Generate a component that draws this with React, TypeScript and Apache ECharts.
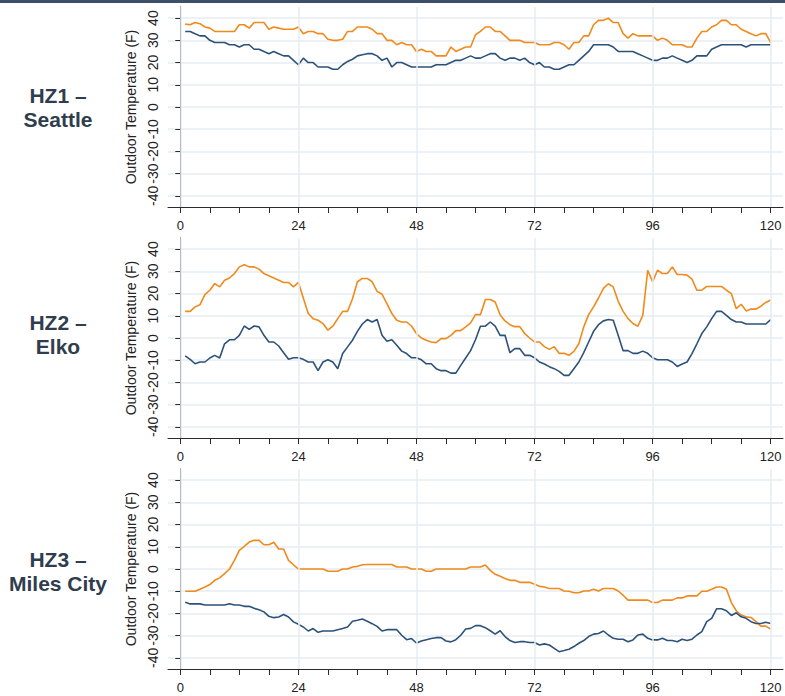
import React, { useEffect, useRef } from "react";
import * as echarts from "echarts";

const hours = Array.from({ length: 120 }, (_, i) => i + 1);
const panelLabels = ["HZ1 –\nSeattle", "HZ2 –\nElko", "HZ3 –\nMiles City"];
const xTickValues = [0, 6, 12, 18, 24, 30, 36, 42, 48, 54, 60, 66, 72, 78, 84, 90, 96, 102, 108, 114, 120];
const xLabelValues = [0, 24, 48, 72, 96, 120];
const yTickValues = [-40, -30, -20, -10, 0, 10, 20, 30, 40];

const hz1Orange = [37.3, 37, 38, 37.5, 36, 35.5, 34, 34, 34, 34, 34, 37, 37, 35.5, 38, 38, 38, 35, 36, 35.5, 35, 35, 35, 36, 33, 34, 34, 33, 33, 30.5, 30, 30, 30.5, 34, 34, 36, 36, 36, 35, 33, 33, 30, 30, 28, 29, 28, 28, 25, 26, 25, 25, 23, 23, 23, 27, 25, 26,
  27, 27, 32.5, 34, 36, 36, 34, 34, 32, 30, 30, 30, 29, 29, 29, 28, 28, 28, 29, 29, 28, 26, 29, 29, 32, 32, 37, 39, 39, 40, 38, 38, 33, 31, 33, 32, 32, 32, 32, 30, 31, 30, 28, 28, 28, 27, 27, 31, 34, 34, 36, 37, 39, 39, 37, 37, 35, 34, 33, 32, 33, 33, 29];
const hz1Blue = [34, 34, 33, 32, 32, 30, 29, 29, 29, 28, 28, 27, 28, 28, 26, 26, 25, 24, 25, 24, 23, 23, 21, 19, 22, 20, 20, 18, 18, 18, 17, 17, 19, 20.5, 21.5, 23, 23.5, 24, 24, 23, 21, 22, 18, 20, 20, 19, 18, 18, 18, 18, 18, 19, 19, 19, 20, 21, 21,
  22, 23, 22, 22, 23, 24, 24, 22, 21, 22, 22, 21, 22, 20, 19, 20, 18, 18, 17, 17, 18, 19, 19, 21, 23, 25, 28, 28, 28, 28, 27, 25, 25, 25, 25, 24, 23, 22, 21, 21, 22, 22, 23, 22, 21, 20, 21, 23, 23, 23, 26, 27, 28, 28, 28, 28, 28, 27, 28, 28, 28, 28, 28];
const hz2Orange = [12, 12, 14, 15, 19.5, 21.5, 24.5, 23, 26, 27, 29, 32, 33, 32, 32, 31, 29, 28, 27, 26, 25, 25, 23, 25, 18, 11, 8.7, 8, 6.5, 3.5, 5.3, 8.7, 12, 12, 17.7, 25.3, 26.8, 26.8, 25.3, 21, 19.7, 15.5, 11, 8, 7.2, 7.2, 5.4, 2, 0, -1, -1.8, -2.1, -0.3, -0.3, 1.2, 3.3, 3.3,
  5, 6.8, 10.5, 10.5, 17.3, 17.3, 16.2, 10.5, 7.7, 6, 5.1, 5.1, 2, 0, -1.8, -1.8, -3.9, -5.1, -3.9, -6.9, -6.9, -7.8, -6, -2.6, 5, 10.5, 14, 18, 22.3, 24.4, 23, 16.5, 12, 8.7, 6.5, 5.3, 10.2, 30.5, 25.3, 30.5, 29, 29, 32, 28.6, 28.6, 28.3, 26.5, 21.5, 21.5, 23.2, 23.2, 23.2, 23.2, 21.5, 20, 13.2, 15.2, 12.2, 13, 13, 14.3, 16, 17.1];
const hz2Blue = [-8, -9.6, -11.6, -10.8, -10.8, -9, -7.8, -9, -2.6, -0.8, -0.8, 1.2, 5.4, 3.9, 5.4, 5, 1.2, -1.8, -1.8, -3.6, -6.6, -9.6, -8.9, -8.9, -9.6, -10.8, -10.8, -14.7, -10.8, -9.8, -10.8, -13.8, -7, -4, -1, 3, 6.3, 8.3, 7.2, 8.3, 1.2, -1.5, -0.8, -3.3, -5.9, -7, -8.9, -8.9, -9.8, -11.6, -11.6, -13.8, -14.7, -14.7, -15.8, -15.8, -12.3,
  -9, -5.7, -0.8, 5.3, 5.3, 7.2, 5.3, 1.2, 1.2, -6.6, -4.8, -4.8, -7.8, -7.8, -8.9, -10.8, -11.7, -12.9, -13.8, -15, -16.8, -16.8, -13.8, -10.8, -6.6, -1.8, 3, 6, 7.7, 8.3, 8, 1.2, -5.7, -5.7, -6.9, -6.9, -5.9, -6.9, -8.9, -9.8, -9.8, -9.8, -10.8, -12.8, -11.7, -10.8, -7, -2.6, 2, 5, 8.7, 12, 12, 10.2, 8.3, 7.2, 7.2, 6.3, 6.3, 6.3, 6.3, 6.3, 8.3];
const hz3Orange = [-10, -10, -10, -9.1, -8.1, -7, -5.1, -4, -2.1, 0, 3.9, 8.4, 10.2, 12.1, 12.9, 12.9, 10.9, 10.9, 12, 9, 9, 3.9, 1.9, 0, 0, 0, 0, 0, 0, -1, -1, -1, 0, 0, 0.9, 1.2, 1.9, 2, 2, 2, 2, 2, 2, 0.9, 0.9, 0.9, 0, 0, 0, -1, -1, 0, 0, 0, 0, 0, 0,
  0, 0.9, 0.9, 0.9, 1.8, -0.6, -2.4, -3.3, -4.3, -5.1, -5.1, -6, -6, -6, -6.9, -7.8, -8.1, -8.8, -8.8, -8.8, -9.9, -10, -10.7, -10.7, -9.9, -9.9, -9.1, -9.9, -8.8, -8.8, -8.8, -9.9, -11.8, -14, -14, -14, -14, -14, -15.1, -15.1, -14, -14, -14, -13, -13, -12.1, -12.1, -12.1, -10, -10, -9.1, -8.1, -8.1, -9.1, -15.1, -18.8, -20.7, -21.5, -21.8, -23.7, -25.7, -25.7, -27];
const hz3Blue = [-15, -15.7, -15.7, -15.7, -16.2, -16.2, -16.2, -16.2, -16.2, -15.6, -16.2, -16.2, -16.8, -16.8, -17.7, -18.3, -19.3, -21.3, -21.9, -21.6, -20.5, -21.6, -23.8, -24.9, -26.1, -27.9, -26.8, -28.5, -27.9, -27.9, -27.9, -27.3, -26.8, -26.1, -23.5, -23.1, -22.5, -23.5, -24.6, -25.8, -27.9, -27.3, -27.3, -27.3, -29.8, -31.8, -31.3, -33.3, -32.4, -31.8, -31.3, -30.9, -30.9, -32.4, -32.8, -31.8, -29.8,
  -27, -26.7, -25.5, -25.5, -26.4, -27.8, -29.3, -27.8, -30.4, -32.2, -33.1, -32.7, -32.7, -33.1, -33.1, -34.2, -33.7, -34.2, -35.7, -37.2, -36.7, -36.1, -34.9, -33.4, -32.2, -30.4, -29.3, -29, -27.9, -29.7, -31.2, -31.6, -31.6, -32.7, -31.9, -29.7, -29.3, -31.2, -31.9, -31.9, -31.2, -32.2, -32.2, -32.7, -31.6, -32.2, -31.6, -29.7, -28.2, -23.7, -22.2, -17.9, -17.9, -18.8, -20.9, -19.7, -21.5, -22.2, -23.7, -24.5, -24.5, -24, -24.5];

const orangeSeries = [hz1Orange, hz2Orange, hz3Orange];
const blueSeries = [hz1Blue, hz2Blue, hz3Blue];

const ORANGE = "#f08a1c";
const BLUE = "#2d5279";
const GRID = "#e4ecf0";
const AXIS = "#2b2b2b";
const FONT = "'Liberation Sans', Arial, sans-serif";

export default function App() {
  const ref = useRef<HTMLDivElement>(null);
  useEffect(() => {
    if (!ref.current) return;
    const chart = echarts.init(ref.current, null, { renderer: "svg" });
    const tops = [7, 238, 469];
    const labelCenters = [107, 334, 571];
    const H = 200;
    const grids = tops.map((t) => ({ left: 168, width: 615, top: t, height: H }));
    const xAxes = tops.map((_, i) => ({
      type: "value",
      gridIndex: i,
      min: -2.5,
      max: 122.5,
      axisLine: { show: true, onZero: false, lineStyle: { color: AXIS, width: 1 } },
      axisTick: { show: true, length: 6, customValues: xTickValues, lineStyle: { color: AXIS } },
      axisLabel: { customValues: xLabelValues, color: "#222", fontSize: 13, fontFamily: FONT, margin: 12 },
      splitLine: { show: false },
    }));
    const yAxes = tops.map((_, i) => ({
      type: "value",
      gridIndex: i,
      min: -45,
      max: 45,
      name: "Outdoor Temperature (F)",
      nameLocation: "middle",
      nameRotate: 90,
      nameGap: 25,
      nameTextStyle: { color: "#222", fontSize: 14, fontFamily: FONT },
      axisLine: { show: true, lineStyle: { color: AXIS, width: 1 } },
      axisTick: { show: true, length: 5, customValues: yTickValues, lineStyle: { color: AXIS } },
      axisLabel: { customValues: yTickValues, rotate: 90, color: "#222", fontSize: 14, fontFamily: FONT, margin: 8 },
      splitLine: { show: true, lineStyle: { color: GRID, width: 1.5 } },
    }));
    const series: any[] = [];
    tops.forEach((_, i) => {
      series.push({
        type: "line",
        xAxisIndex: i,
        yAxisIndex: i,
        data: [],
        z: 1,
        silent: true,
        markLine: {
          silent: true,
          symbol: "none",
          label: { show: false },
          lineStyle: { color: GRID, width: 1.5, type: "solid" },
          data: xLabelValues.map((v) => ({ xAxis: v })),
        },
      });
      series.push({
        type: "line",
        xAxisIndex: i,
        yAxisIndex: i,
        data: hours.map((h, j) => [h, orangeSeries[i][j]]),
        showSymbol: false,
        symbol: "none",
        lineStyle: { color: ORANGE, width: 1.6 },
        itemStyle: { color: ORANGE },
        z: 3,
      });
      series.push({
        type: "line",
        xAxisIndex: i,
        yAxisIndex: i,
        data: hours.map((h, j) => [h, blueSeries[i][j]]),
        showSymbol: false,
        symbol: "none",
        lineStyle: { color: BLUE, width: 1.6 },
        itemStyle: { color: BLUE },
        z: 4,
      });
    });
    const graphics: any[] = [
      { type: "rect", left: 0, top: 0, shape: { x: 0, y: 0, width: 785, height: 3 }, style: { fill: "#3c4f66" } },
    ];
    tops.forEach((_, i) => {
      graphics.push({
        type: "text",
        x: 58,
        y: labelCenters[i],
        style: {
          text: panelLabels[i],
          textAlign: "center",
          textVerticalAlign: "middle",
          font: `bold 21px ${FONT}`,
          lineHeight: 24,
          fill: "#2f3d4d",
        },
      });
    });
    chart.setOption({
      animation: false,
      backgroundColor: "#ffffff",
      grid: grids,
      xAxis: xAxes,
      yAxis: yAxes,
      series,
      graphic: graphics,
    });
    return () => chart.dispose();
  }, []);
  return (
    <div
      ref={ref}
      style={{ position: "absolute", left: 0, top: 0, width: 785, height: 696 }}
    />
  );
}
